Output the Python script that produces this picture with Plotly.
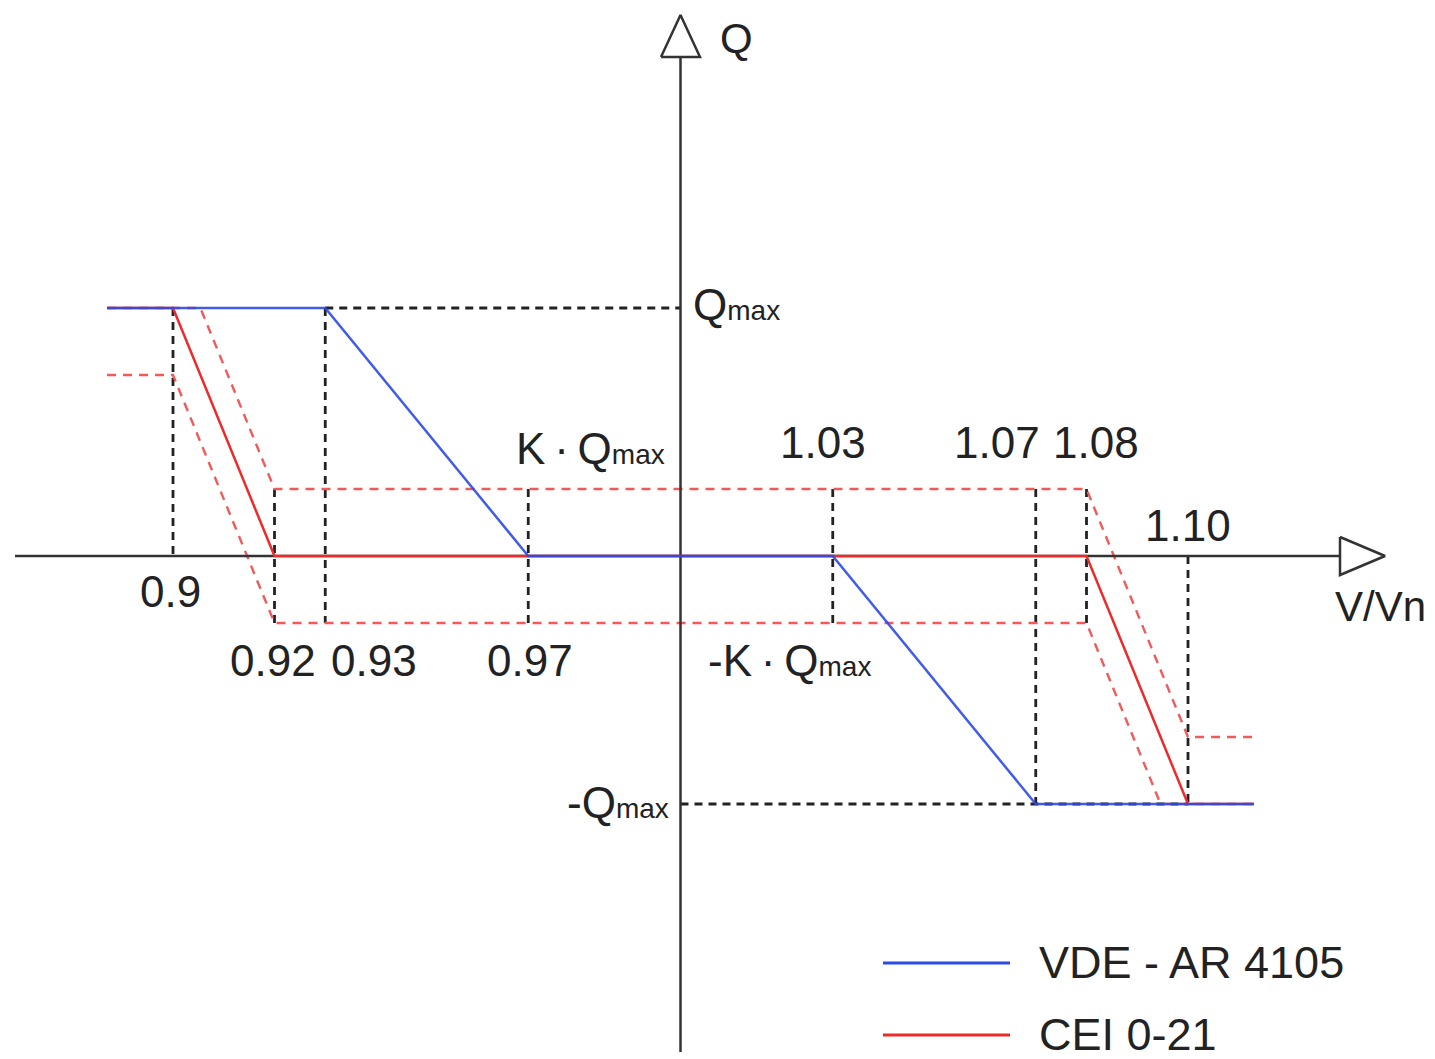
import plotly.graph_objects as go

# ---------------- data ----------------
K = 0.27  # K·Qmax expressed as a fraction of Qmax (schematic)
v_start, v_end = 0.887, 1.113

vde_v = [v_start, 0.93, 0.97, 1.03, 1.07, v_end]
vde_q = [1, 1, 0, 0, -1, -1]

cei_v = [v_start, 0.90, 0.92, 1.08, 1.10, v_end]
cei_q = [1, 1, 0, 0, -1, -1]

# CEI band: CEI curve shifted by ±K·Qmax, limited to ±Qmax
cei_up_v = [v_start, 0.90 + 0.02 * K, 0.92, 1.08, 1.10, v_end]
cei_up_q = [1, 1, K, K, K - 1, K - 1]
cei_lo_v = [v_start, 0.90, 0.92, 1.08, 1.10 - 0.02 * K, v_end]
cei_lo_q = [1 - K, 1 - K, -K, -K, -1, -1]

# vertical guide lines
guide_v = [0.90, 0.92, 0.93, 0.97, 1.03, 1.07, 1.08, 1.10]
guide_top = [1, K, 1, K, K, K, K, 0]
guide_bot = [0, -K, -K, -K, -K, -1, -K, -1]
# horizontal guide lines (q, v_from, v_to)
hguide_q = [1, -1]
hguide_from = [0.93, 1.0]
hguide_to = [1.0, 1.10]

tick_v = [0.90, 0.92, 0.93, 0.97, 1.03, 1.07, 1.08, 1.10]
tick_text = ["0.9", "0.92", "0.93", "0.97", "1.03", "1.07", "1.08", "1.10"]

series_names = ["VDE - AR 4105", "CEI 0-21"]

# ---------------- layout helpers ----------------
W, H = 1435, 1059
XS = 5075.0      # px per V/Vn unit
X0PX = 173.0     # pixel of V/Vn = 0.9
YS = 248.0       # px per Qmax
Y0PX = 556.0     # pixel of Q = 0
xr = [0.9 - X0PX / XS, 0.9 + (W - X0PX) / XS]
yr = [-(H - Y0PX) / YS, Y0PX / YS]


def px2x(px):
    return xr[0] + px / XS


def py2y(py):
    return (Y0PX - py) / YS


FONT = "Liberation Sans, Arial, sans-serif"
TXT = "#222222"
BLUE = "#2c4be6"
RED = "#ee2b2b"
RED_D = "#f05a5a"

fig = go.Figure()

# black dashed guides
gx, gy = [], []
for v, t, b in zip(guide_v, guide_top, guide_bot):
    gx += [v, v, None]
    gy += [t, b, None]
for q, a, b in zip(hguide_q, hguide_from, hguide_to):
    gx += [a, b, None]
    gy += [q, q, None]
fig.add_trace(go.Scatter(x=gx, y=gy, mode="lines", showlegend=False, hoverinfo="skip",
                         line=dict(color="#222222", width=2.8, dash="8px,6px")))

# red dashed band
for bv, bq in [(cei_up_v, cei_up_q), (cei_lo_v, cei_lo_q)]:
    fig.add_trace(go.Scatter(x=bv, y=bq, mode="lines", showlegend=False, hoverinfo="skip",
                             line=dict(color=RED_D, width=2.4, dash="9px,7px")))

# axes
fig.add_trace(go.Scatter(x=[px2x(15), px2x(1340)], y=[0, 0], mode="lines", showlegend=False,
                         hoverinfo="skip", line=dict(color="#333333", width=2.5)))
fig.add_trace(go.Scatter(x=[1.0, 1.0], y=[py2y(1052), py2y(57)], mode="lines", showlegend=False,
                         hoverinfo="skip", line=dict(color="#333333", width=2.5)))
fig.add_trace(go.Scatter(x=[px2x(1340), px2x(1385), px2x(1340), px2x(1340)],
                         y=[py2y(537), py2y(556), py2y(575), py2y(537)],
                         mode="lines", fill="toself", fillcolor="white", showlegend=False,
                         hoverinfo="skip", line=dict(color="#333333", width=2.5)))
fig.add_trace(go.Scatter(x=[px2x(661), px2x(680.5), px2x(700), px2x(661)],
                         y=[py2y(57), py2y(15), py2y(57), py2y(57)],
                         mode="lines", fill="toself", fillcolor="white", showlegend=False,
                         hoverinfo="skip", line=dict(color="#333333", width=2.5)))

# curves
fig.add_trace(go.Scatter(x=cei_v, y=cei_q, mode="lines", name=series_names[1], showlegend=False,
                         line=dict(color=RED, width=2.5)))
fig.add_trace(go.Scatter(x=vde_v, y=vde_q, mode="lines", name=series_names[0], showlegend=False,
                         opacity=0.9, line=dict(color=BLUE, width=2.5)))

fig.update_xaxes(range=xr, visible=False, fixedrange=True)
fig.update_yaxes(range=yr, visible=False, fixedrange=True)

ann = []


def A(text, x, y, xanchor="center", yanchor="middle", xshift=0, yshift=0, size=44,
      xref="x", yref="y"):
    ann.append(dict(text=text, x=x, y=y, xref=xref, yref=yref, xanchor=xanchor,
                    yanchor=yanchor, xshift=xshift, yshift=yshift, showarrow=False,
                    font=dict(family=FONT, size=size, color=TXT)))


sm = "<span style='font-size:28px'>max</span>"
ts = "\u2009"
lab = dict(zip(tick_v, tick_text))
A(lab[0.90], 0.90, py2y(591), xshift=-3)
A(lab[0.92], 0.92, py2y(660), xshift=-2)
A(lab[0.93], 0.93, py2y(660), xanchor="left", xshift=4)
A(lab[0.97], 0.97, py2y(660), xshift=2)
A(lab[1.03], 1.03, py2y(442), xshift=-10)
A(lab[1.07], 1.07, py2y(442), xanchor="right", xshift=6)
A(lab[1.08], 1.08, py2y(442), xanchor="left", xshift=-36)
A(lab[1.10], 1.10, py2y(525))
A("Q" + sm, 1.0, 1, xanchor="left", xshift=10, yshift=4)
A("K" + ts + "·" + ts + "Q" + sm, 1.0, py2y(448), xanchor="right", xshift=-14)
A("-K" + ts + "·" + ts + "Q" + sm, 1.0, py2y(660), xanchor="left", xshift=25)
A("-Q" + sm, 1.0, -1, xanchor="right", xshift=-10, yshift=2)
A("Q", 1.0, py2y(38), xanchor="left", xshift=37, size=42)
A("V/Vn", px2x(1428), py2y(606), xanchor="right", size=42)

# legend (manual, long line samples)
shapes = []
for i, (nm, col) in enumerate(zip(series_names, [BLUE, RED])):
    ly = [963, 1035][i]
    shapes.append(dict(type="line", xref="paper", yref="paper", x0=883 / W, x1=1010 / W,
                       y0=1 - ly / H, y1=1 - ly / H, line=dict(color=col, width=3)))
    A(nm, 1037 / W, 1 - (ly - 1) / H, xanchor="left", xref="paper", yref="paper", size=45)

fig.update_layout(width=W, height=H, margin=dict(l=0, r=0, t=0, b=0, pad=0),
                  paper_bgcolor="white", plot_bgcolor="white", annotations=ann, shapes=shapes,
                  showlegend=False)

fig.write_html("out.html", post_script="document.body.style.margin='0';",
               config={"displayModeBar": False})
